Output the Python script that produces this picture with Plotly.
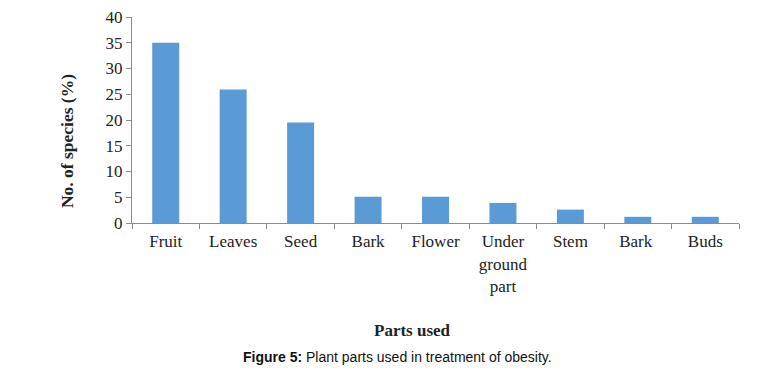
import plotly.graph_objects as go

categories = ["Fruit", "Leaves", "Seed", "Bark", "Flower", "Under<br>ground<br>part", "Stem", "Bark ", "Buds"]
values = [35.0, 25.9, 19.5, 5.1, 5.1, 3.9, 2.6, 1.2, 1.2]
y_ticks = [0, 5, 10, 15, 20, 25, 30, 35, 40]

L, R, T, B = 132, 39, 16.7, 152
W, H = 778, 375
pw = W - L - R
ph = H - T - B

def px(x):
    return (x - L) / pw

def py(y):
    return (H - B - y) / ph

fig = go.Figure(go.Bar(x=categories, y=values, marker=dict(color="#5B9BD5", line=dict(width=0))))

serif = "Liberation Serif, Times New Roman, serif"
fig.update_layout(
    width=W, height=H,
    margin=dict(l=L, r=R, t=T, b=B, autoexpand=False),
    plot_bgcolor="white", paper_bgcolor="white",
    bargap=0.6,
    showlegend=False,
    font=dict(family=serif, size=17, color="#222222"),
)
fig.update_xaxes(
    automargin=False,
    showline=True, linecolor="#8c8c8c", linewidth=1,
    ticks="outside", tickson="boundaries", ticklen=5, tickcolor="#8c8c8c",
    ticklabelstandoff=3,
    showgrid=False, tickfont=dict(family=serif, size=17, color="#222222"),
)
fig.update_yaxes(
    automargin=False,
    range=[0, 40], tickvals=y_ticks,
    showline=True, linecolor="#8c8c8c", linewidth=1,
    ticks="outside", ticklen=5, tickcolor="#8c8c8c",
    showgrid=False, zeroline=False,
    tickfont=dict(family=serif, size=17, color="#222222"),
)

fig.add_annotation(
    text="<b>No. of species (%)</b>", textangle=-90,
    xref="paper", yref="paper", x=px(67), y=py(141),
    showarrow=False, font=dict(family=serif, size=17.5, color="#222222"),
    xanchor="center", yanchor="middle",
)
fig.add_annotation(
    text="<b>Parts used</b>",
    xref="paper", yref="paper", x=px(412), y=py(331),
    showarrow=False, font=dict(family=serif, size=17, color="#222222"),
    xanchor="center", yanchor="middle",
)
fig.add_annotation(
    text="<b>Figure 5:</b> Plant parts used in treatment of obesity.",
    xref="paper", yref="paper", x=px(397), y=py(357),
    showarrow=False, font=dict(family="Liberation Sans, Arial, sans-serif", size=14, color="#111111"),
    xanchor="center", yanchor="middle",
)

fig.write_html(
    "out.html",
    config={"displayModeBar": False},
    post_script="document.body.style.margin='0';document.body.style.overflow='hidden';",
)
